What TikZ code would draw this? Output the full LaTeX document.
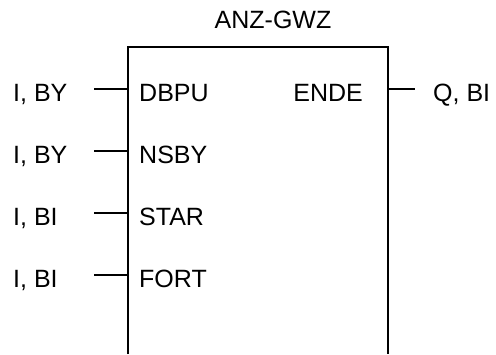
\documentclass[tikz,border=0pt]{standalone}
\usepackage{fontspec}
\setmainfont{Liberation Sans}
\usetikzlibrary{positioning}
\tikzset{
    x=1pt,
    y=-1pt,
    every node/.style={
        font=\fontsize{25}{29}\selectfont,
        inner sep=0pt
    },
    pinname/.style={anchor=base west},
    wire/.style={line width=1.7pt},
}

\begin{document}
\begin{tikzpicture}
    \useasboundingbox (0,0) rectangle (496,354);
    \coordinate (bl) at (128,354);
    \coordinate (tl) at (128,47);
    \coordinate (tr) at (388,47);
    \coordinate (br) at (388,354);
    \draw[wire] (bl) -- (tl) -- (tr) -- (br);
    \node[anchor=base] (title) at (273,28.5) {ANZ-GWZ};

    % inputs
    \foreach \name/\typ/\y in {DBPU/{I, BY}/89, NSBY/{I, BY}/151,
                              STAR/{I, BI}/213, FORT/{I, BI}/275} {
        \node[pinname] (in-\name)  at (139,\y+12.5) {\name};
        \node[pinname] (typ-\name) at (13,\y+12.5)  {\typ};
        \coordinate (pin-\name) at (128,\y);
        \coordinate (end-\name) at (94,\y);
        \draw[wire] (end-\name) -- (pin-\name);
    }

    % output
    \node[anchor=base east] (out-ENDE) at (363,101.5) {ENDE};
    \node[pinname]          (typ-ENDE) at (433,101.5) {Q, BI};
    \coordinate (pin-ENDE) at (388,89);
    \coordinate (end-ENDE) at (415,89);
    \draw[wire] (pin-ENDE) -- (end-ENDE);
\end{tikzpicture}
\end{document}
